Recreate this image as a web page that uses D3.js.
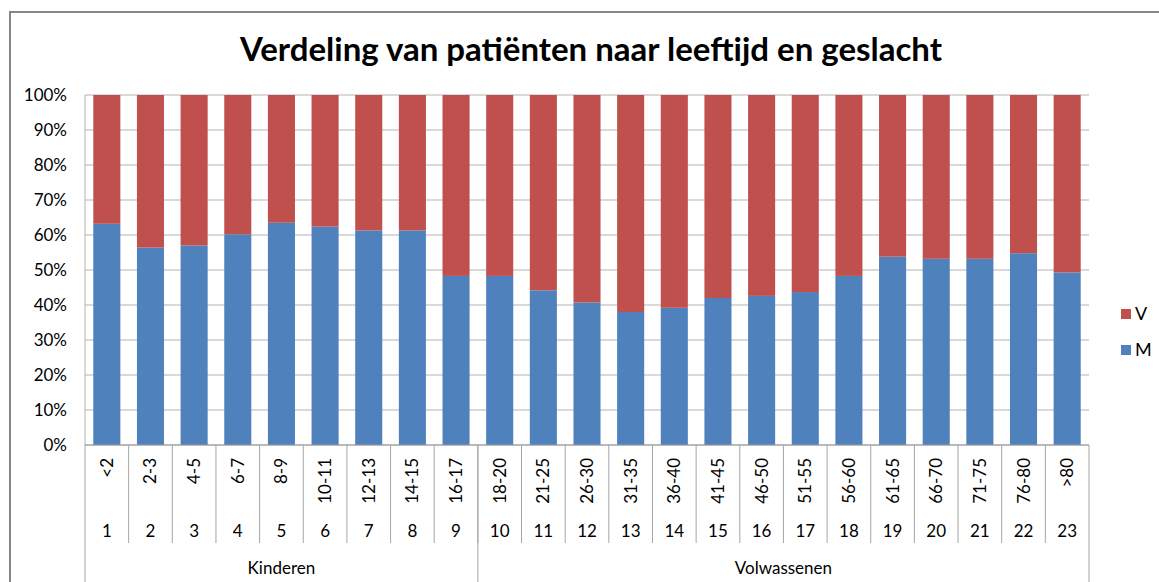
<!DOCTYPE html>
<html>
<head>
<meta charset="utf-8">
<script src="https://cdn.jsdelivr.net/npm/d3@7"></script>
<style>
  body { margin: 0; background: #fff; }
  text { font-family: Lato, "Open Sans", sans-serif; fill: #000; }
</style>
</head>
<body>
<div id="chart"></div>
<script>
// data
const ageGroups = ["<2","2-3","4-5","6-7","8-9","10-11","12-13","14-15","16-17",
  "18-20","21-25","26-30","31-35","36-40","41-45","46-50","51-55","56-60",
  "61-65","66-70","71-75","76-80",">80"]
const indexLabels = ageGroups.map((d, i) => String(i + 1))
const groups = [
  {name: "Kinderen", from: 0, to: 9},
  {name: "Volwassenen", from: 9, to: 23}
]
const men = [63.2,56.4,57.0,60.2,63.5,62.4,61.3,61.3,48.3,48.3,44.2,40.7,
  38.0,39.2,42.0,42.6,43.7,48.3,53.8,53.2,53.2,54.8,49.3]
const women = men.map(m => 100 - m)
const yTicks = [0,10,20,30,40,50,60,70,80,90,100]

const width = 1159, height = 582
const svg = d3.select("#chart").append("svg")
    .attr("width", width)
    .attr("height", height)

// outer chart border
svg.append("rect")
    .attr("x", 10).attr("y", 12)
    .attr("width", 1170).attr("height", 600)
    .attr("fill", "none")
    .attr("stroke", "#878787")
    .attr("stroke-width", 2)

svg.append("text")
    .attr("x", 591).attr("y", 61)
    .attr("text-anchor", "middle")
    .attr("font-size", 33)
    .attr("font-weight", "bold")
    .text("Verdeling van patiënten naar leeftijd en geslacht")

const plotLeft = 85, plotRight = 1089, plotTop = 95, plotBottom = 445

const x = d3.scaleBand()
    .domain(ageGroups)
    .range([plotLeft, plotRight])
    .paddingInner(0.38)
    .paddingOuter(0.19)

const y = d3.scaleLinear()
    .domain([0, 100])
    .range([plotBottom, plotTop])

// gridlines
svg.append("g")
    .selectAll("line")
    .data(yTicks)
    .enter().append("line")
    .attr("x1", plotLeft).attr("x2", plotRight)
    .attr("y1", d => y(d)).attr("y2", d => y(d))
    .attr("stroke", "#b3b3b3")
    .attr("stroke-width", 1)

// y axis labels
svg.append("g")
    .selectAll("text")
    .data(yTicks)
    .enter().append("text")
    .attr("x", 67)
    .attr("y", d => y(d) + 6)
    .attr("text-anchor", "end")
    .attr("font-size", 17)
    .text(d => d + "%")

// stacked bars
const stacked = d3.stack().keys(["M", "V"])(
  ageGroups.map((g, i) => ({group: g, M: men[i], V: women[i]})))
const colors = {M: "#4F81BD", V: "#C0504D"}

svg.append("g")
    .selectAll("g")
    .data(stacked)
    .enter().append("g")
    .attr("fill", d => colors[d.key])
    .selectAll("rect")
    .data(d => d)
    .enter().append("rect")
    .attr("x", d => x(d.data.group))
    .attr("y", d => y(d[1]))
    .attr("width", x.bandwidth())
    .attr("height", d => y(d[0]) - y(d[1]))

// y axis line
svg.append("line")
    .attr("x1", plotLeft).attr("x2", plotLeft)
    .attr("y1", plotTop).attr("y2", plotBottom)
    .attr("stroke", "#b3b3b3")

// category axis
const colW = (plotRight - plotLeft) / ageGroups.length
const ax = svg.append("g")
ax.append("line")
    .attr("x1", plotLeft).attr("x2", plotRight)
    .attr("y1", plotBottom).attr("y2", plotBottom)
    .attr("stroke", "#9a9a9a")

ax.selectAll("line.sep")
    .data(d3.range(1, ageGroups.length))
    .enter().append("line")
    .attr("class", "sep")
    .attr("x1", i => plotLeft + i * colW)
    .attr("x2", i => plotLeft + i * colW)
    .attr("y1", plotBottom).attr("y2", 543)
    .attr("stroke", "#a6a6a6")

const groupEdges = [0, 9, 23]
ax.selectAll("line.grp")
    .data(groupEdges)
    .enter().append("line")
    .attr("class", "grp")
    .attr("x1", i => plotLeft + i * colW)
    .attr("x2", i => plotLeft + i * colW)
    .attr("y1", plotBottom).attr("y2", height)
    .attr("stroke", "#a6a6a6")

ax.selectAll("text.age")
    .data(ageGroups)
    .enter().append("text")
    .attr("class", "age")
    .attr("transform", d => `translate(${x(d) + x.bandwidth() / 2 + 6},458) rotate(-90)`)
    .attr("text-anchor", "end")
    .attr("font-size", 17)
    .text(d => d)

ax.selectAll("text.idx")
    .data(indexLabels)
    .enter().append("text")
    .attr("class", "idx")
    .attr("x", (d, i) => x(ageGroups[i]) + x.bandwidth() / 2)
    .attr("y", 537)
    .attr("text-anchor", "middle")
    .attr("font-size", 17)
    .text(d => d)

ax.selectAll("text.grpname")
    .data(groups)
    .enter().append("text")
    .attr("class", "grpname")
    .attr("x", d => plotLeft + (d.from + d.to) / 2 * colW)
    .attr("y", 574)
    .attr("text-anchor", "middle")
    .attr("font-size", 17)
    .text(d => d.name)

// legend
const legend = svg.append("g")
    .selectAll("g")
    .data(["V", "M"])
    .enter().append("g")
    .attr("transform", (d, i) => `translate(1121,${309 + i * 36})`)
legend.append("rect")
    .attr("width", 10).attr("height", 10)
    .attr("fill", d => colors[d])
legend.append("text")
    .attr("x", 14).attr("y", 11)
    .attr("font-size", 18)
    .text(d => d)
</script>
</body>
</html>
